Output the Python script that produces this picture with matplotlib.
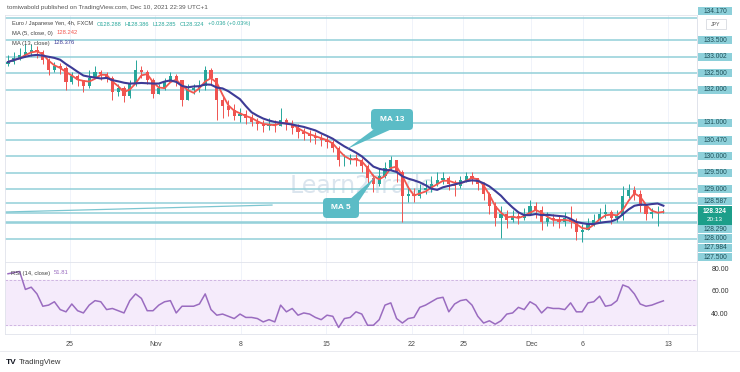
import numpy as np
import pandas as pd
import matplotlib
matplotlib.use("Agg")
import matplotlib.pyplot as plt
from matplotlib.patches import FancyBboxPatch, Polygon, Rectangle
from matplotlib.transforms import IdentityTransform
from matplotlib.lines import Line2D

plt.rcParams['font.family'] = ['Liberation Sans', 'DejaVu Sans']

# ---------------- data (EUR/JPY, resampled candles) ----------------
close = [132.84, 132.96, 133.05, 133.14, 133.20, 133.14, 132.90, 132.60, 132.72, 132.66,
         132.23, 132.41, 132.29, 132.11, 132.35, 132.54, 132.47, 132.35, 131.93, 132.05,
         131.81, 132.17, 132.60, 132.54, 132.29, 131.87, 132.05, 132.23, 132.41, 132.29,
         131.69, 131.99, 132.05, 132.11, 132.60, 132.35, 131.69, 131.51, 131.39, 131.21,
         131.27, 131.15, 131.03, 130.97, 130.91, 130.97, 130.91, 131.09, 130.97, 130.84,
         130.72, 130.66, 130.60, 130.54, 130.48, 130.42, 130.24, 129.88, 129.88, 129.94,
         129.88, 129.70, 129.34, 129.15, 129.40, 129.64, 129.88, 129.52, 128.79, 128.85,
         128.79, 128.97, 129.03, 129.15, 129.27, 129.34, 129.15, 129.09, 129.27, 129.40,
         129.34, 129.15, 128.85, 128.49, 128.13, 128.25, 128.07, 128.19, 128.13, 128.25,
         128.49, 128.37, 128.01, 128.13, 128.07, 128.01, 128.13, 128.01, 127.70, 127.76,
         127.95, 128.07, 128.25, 128.31, 128.13, 128.19, 128.79, 128.97, 128.85, 128.49,
         128.25, 128.31, 128.31, 128.324]
high = [133.05, 133.14, 133.26, 133.38, 133.38, 133.32, 133.20, 132.96, 132.84, 132.81,
        132.72, 132.54, 132.47, 132.29, 132.60, 132.72, 132.60, 132.54, 132.41, 132.17,
        132.11, 132.29, 132.90, 132.72, 132.60, 132.35, 132.17, 132.35, 132.54, 132.47,
        132.29, 132.17, 132.17, 132.29, 132.72, 132.66, 132.35, 131.81, 131.69, 131.57,
        131.45, 131.39, 131.27, 131.15, 131.09, 131.15, 131.09, 131.45, 131.15, 131.09,
        130.97, 130.84, 130.78, 130.72, 130.66, 130.60, 130.48, 130.30, 130.06, 130.06,
        130.06, 129.94, 129.76, 129.46, 129.64, 129.82, 130.00, 129.88, 129.58, 129.09,
        129.03, 129.15, 129.27, 129.40, 129.52, 129.52, 129.40, 129.27, 129.40, 129.52,
        129.52, 129.34, 129.21, 128.91, 128.61, 128.49, 128.37, 128.37, 128.31, 128.43,
        128.67, 128.61, 128.49, 128.31, 128.25, 128.19, 128.31, 128.49, 128.13, 127.95,
        128.13, 128.25, 128.43, 128.55, 128.37, 128.37, 129.09, 129.15, 129.09, 128.97,
        128.55, 128.43, 128.49, 128.386]
low = [132.72, 132.78, 132.90, 132.99, 133.02, 132.96, 132.78, 132.44, 132.54, 132.47,
       131.99, 132.17, 132.11, 131.93, 132.05, 132.35, 132.29, 132.23, 131.69, 131.81,
       131.63, 131.75, 132.11, 132.35, 132.17, 131.75, 131.87, 131.99, 132.23, 132.11,
       131.51, 131.81, 131.87, 131.93, 131.99, 132.17, 131.09, 131.15, 131.21, 131.09,
       131.03, 130.97, 130.91, 130.78, 130.72, 130.78, 130.72, 130.91, 130.78, 130.66,
       130.54, 130.48, 130.42, 130.36, 130.30, 130.24, 130.12, 129.70, 129.70, 129.76,
       129.70, 129.52, 129.09, 128.91, 129.09, 129.34, 129.58, 129.21, 128.01, 128.61,
       128.61, 128.73, 128.85, 128.91, 129.09, 129.15, 128.97, 128.79, 129.03, 129.21,
       129.15, 128.97, 128.67, 128.25, 127.89, 127.52, 127.82, 128.01, 127.95, 128.07,
       128.31, 128.13, 127.76, 127.89, 127.89, 127.82, 127.89, 127.82, 127.46, 127.40,
       127.76, 127.89, 128.01, 128.13, 127.95, 128.01, 128.07, 128.73, 128.67, 128.31,
       128.07, 128.13, 127.89, 128.285]
first_open = 132.78
rsi = [76, 77, 78, 62, 64, 58, 47, 48, 51, 44,
       42, 49, 43, 41, 48, 52, 51, 44, 45, 43,
       41, 52, 58, 54, 43, 43, 48, 51, 52, 41,
       47, 47, 47, 49, 58, 44, 39, 40, 38, 36,
       40, 37, 37, 36, 33, 35, 33, 48, 42, 45,
       39, 41, 40, 37, 35, 39, 38, 28, 36, 37,
       42, 40, 30, 30, 35, 48, 50, 36, 32, 36,
       37, 46, 48, 51, 54, 55, 42, 49, 52, 53,
       48, 38, 32, 34, 31, 34, 40, 41, 46, 44,
       51, 48, 41, 46, 45, 45, 44, 50, 42, 42,
       50, 51, 56, 47, 48, 52, 66, 64, 58, 49,
       47, 48, 50, 51.81]

levels = [134.170, 133.500, 133.002, 132.500, 132.000, 131.000, 130.470, 130.000,
          129.500, 129.000, 128.587, 128.290, 128.000, 127.984, 127.500]
last_price = 128.324
countdown = "20:13"
trend_prices = [128.31, 128.52]
rsi_levels = [80, 60, 40]
tick_days = [0, 5, 10, 15, 20, 23, 27, 30, 35]      # trading days after Oct 25
tick_labels = ["25", "Nov", "8", "15", "22", "25", "Dec", "6", "13"]
symbol_line = ["Euro / Japanese Yen, 4h, FXCM", "O128.288", "H128.386", "L128.285",
               "C128.324", "+0.036 (+0.03%)"]

# ---------------- layout helpers ----------------
W, H = 740, 372
fig = plt.figure(figsize=(W / 100, H / 100), dpi=100)
fig.patch.set_facecolor("white")
renderer = fig.canvas.get_renderer()
BAR_PX = 5.8
def bx(px):            # pixel column -> bar coordinate
    return (px - 8) / BAR_PX
def F(x, y):           # pixel -> figure fraction
    return (x / W, 1 - y / H)

ax = fig.add_axes([5 / W, 1 - 262 / H, 692 / W, 247 / H])
rax = fig.add_axes([5 / W, 1 - 334 / H, 692 / W, 72 / H], sharex=ax)
ax.set_xlim(bx(5), bx(697))
ax.set_ylim(126.80, 134.26)
rax.set_ylim(22.2, 86.5)

for a in (ax, rax):
    for s in a.spines.values():
        s.set_color("#e0e3eb")
        s.set_linewidth(0.6)
    a.set_yticks([])
    a.set_facecolor("white")

ticks = [bx(70) + d * (17.09 / BAR_PX) for d in tick_days]
rax.set_xticks(ticks)
rax.set_xticklabels(tick_labels)
rax.tick_params(axis="x", length=0, pad=5, labelsize=5, labelcolor="#4a4a4a")
ax.tick_params(axis="x", length=0, labelbottom=False)
for t in ticks:
    ax.axvline(t, color="#f0f3fa", lw=0.7, zorder=0)
    rax.axvline(t, color="#f0f3fa", lw=0.7, zorder=0)

# watermark
ax.text(362 / W, 1 - 186 / H, "Learn2Trade", transform=fig.transFigure, ha="center", va="center",
        fontsize=17, color="#dbe5ee", zorder=0.5, family="DejaVu Sans")

# levels
for lv in levels:
    ax.axhline(lv, color="#92cfd9", lw=1.1, zorder=1)

# trend line
ax.plot([bx(5), bx(272)], trend_prices, color="#7cc6d0", lw=0.9, zorder=2)

# candles
c = np.array(close)
o = np.array([first_open] + close[:-1])
h = np.maximum(np.array(high), np.maximum(o, c))
l = np.minimum(np.array(low), np.minimum(o, c))
x = np.arange(len(c))
up = c >= o
cols = np.where(up, "#26a69a", "#ef5350")
ax.vlines(x, l, h, colors=cols, lw=0.7, zorder=3)
body = np.maximum(np.abs(c - o), 0.012)
ax.bar(x, body, bottom=np.minimum(o, c), width=0.55, color=cols, zorder=3, linewidth=0)

# moving averages
s = pd.Series(c)
ma5 = s.rolling(3, min_periods=1).mean()
ma13 = s.rolling(7, min_periods=1).mean()
ax.plot(x, ma5, color="#f2574f", lw=1.3, zorder=4)
ax.plot(x, ma13, color="#3d3b96", lw=1.5, zorder=4)

# RSI
rax.fill_between([bx(5), bx(697)], 30, 70, color="#f5ebfb", zorder=0.2)
for lv in (30, 70):
    rax.axhline(lv, color="#c9aede", lw=0.6, ls=(0, (3, 2)), zorder=0.3)
rax.plot(x, rsi, color="#9a6cc0", lw=1.1, zorder=3)

# ---------------- price-scale labels ----------------
to_px = lambda yy: H - ax.transData.transform((0, yy))[1]
LBL_H = 9.3
ty = to_px(last_price)
g_top, g_bot = ty - 5.5, ty + 13
above = sorted([v for v in levels if v > last_price])
below = sorted([v for v in levels if v < last_price], reverse=True)
placed = {}
lim = g_top
for v in above:
    yv = min(to_px(v), lim - LBL_H / 2)
    if 14 < yv + LBL_H / 2 and yv - LBL_H / 2 < 30:   # avoid currency tag
        yv = min(yv, 14 - LBL_H / 2 + 2)
    placed[v] = yv
    lim = yv - LBL_H / 2
lim = g_bot
for v in below:
    yv = max(to_px(v), lim + LBL_H / 2)
    placed[v] = yv
    lim = yv + LBL_H / 2

for v, yv in placed.items():
    fig.add_artist(Rectangle((698, H - (yv + LBL_H / 2 - 0.6)), 34, LBL_H - 1.2,
                             transform=IdentityTransform(), color="#8dd0da", lw=0))
    fig.text(*F(715, yv), f"{v:.3f}", ha="center", va="center", fontsize=4.8, color="#1d4f58")

fig.add_artist(Rectangle((698, H - g_bot), 34, g_bot - g_top, transform=IdentityTransform(),
                         color="#1c9e8a", lw=0))
fig.text(*F(715, ty), f"{last_price:.3f}", ha="center", va="center", fontsize=4.8,
         color="white", weight="bold")
fig.text(*F(715, ty + 8), countdown, ha="center", va="center", fontsize=4.6, color="white")

# currency tag
fig.add_artist(Rectangle((706, H - 29), 20, 10, transform=IdentityTransform(),
                         facecolor="white", edgecolor="#cfd3da", lw=0.5))
fig.text(*F(716, 24), "JPY", ha="center", va="center", fontsize=3.8, color="#555")

# RSI scale labels
for rv in rsi_levels:
    yy = H - rax.transData.transform((0, rv))[1]
    fig.text(*F(720, yy), f"{rv:.2f}", ha="center", va="center", fontsize=5, color="#333")

# separators
fig.add_artist(Line2D([697 / W, 697 / W], [1 - 350 / H, 1 - 15 / H], transform=fig.transFigure,
                      color="#e0e3eb", lw=0.6))
fig.add_artist(Line2D([0, 1], [1 - 351 / H, 1 - 351 / H], transform=fig.transFigure,
                      color="#e6e8ee", lw=0.6))

# ---------------- header texts ----------------
def text_row(x0, y, parts, fs=4.2, gap=3.5):
    xp = x0
    for t, col in parts:
        tt = fig.text(*F(xp, y), t, fontsize=fs, color=col, va="center")
        bb = tt.get_window_extent(renderer=renderer)
        xp += bb.width + gap

fig.text(*F(7, 7), "tomiwabold published on TradingView.com, Dec 10, 2021 22:39 UTC+1",
         fontsize=4.6, color="#555", va="center")
text_row(12, 24, [(symbol_line[0], "#444")] + [(t, "#26a69a") for t in symbol_line[1:]], fs=4.1)
text_row(12, 33, [("MA (5, close, 0)", "#444"), ("128.242", "#f2574f")])
text_row(12, 43, [("MA (13, close)", "#444"), ("128.376", "#3d3b96")])
text_row(11, 273, [("RSI (14, close)", "#444"), ("51.81", "#9a6cc0")])

# footer logo
fig.text(*F(6, 362), "TV", fontsize=6, color="#131722", va="center", weight="bold")
fig.text(*F(19, 362), "TradingView", fontsize=5.5, color="#333", va="center")

# ---------------- callouts ----------------
CALL = "#5bbcc6"
def callout(x0, y0, w, hh, tri, label):
    fig.add_artist(FancyBboxPatch((x0, H - y0 - hh), w, hh, boxstyle="round,pad=0,rounding_size=4",
                                  transform=IdentityTransform(), facecolor=CALL, edgecolor="none"))
    fig.add_artist(Polygon([(px, H - py) for px, py in tri], closed=True,
                           transform=IdentityTransform(), facecolor=CALL, edgecolor="none"))
    fig.text(*F(x0 + w / 2, y0 + hh / 2), label, ha="center", va="center",
             fontsize=6, color="white", weight="bold")

callout(371, 109, 42, 21, [(377, 127), (392, 129), (347, 149)], "MA 13")
callout(323, 198, 36, 20, [(348, 201), (359, 201), (375, 177)], "MA 5")

fig.savefig("out.png", dpi=100, facecolor="white")
